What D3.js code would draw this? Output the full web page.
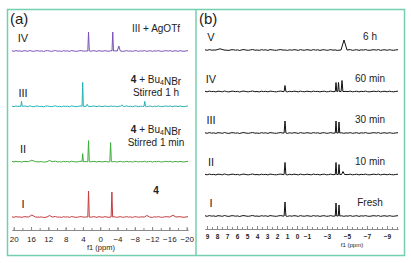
<!DOCTYPE html>
<html lang="en">
<head>
<meta charset="UTF-8" />
<title>NMR spectra</title>
<script src="https://d3js.org/d3.v7.min.js"></script>
<style>
  html, body { margin: 0; padding: 0; background: #fff; }
  svg { display: block; font-family: "Liberation Sans", Arial, sans-serif; }
  .trace { fill: none; stroke-linejoin: round; }
  .axis path, .axis line { stroke: #8a8a8a; }
  .axis text { fill: #222; }
</style>
</head>
<body>
<svg id="chart" width="411" height="263"></svg>
<script>
// panel (a)
const namesA = ["IV", "III", "II", "I"];
const colorsA = ["#7b52b6", "#25b3b6", "#3fab3c", "#c43c40"];
const notesA = [
  ["III + AgOTf"],
  ["<b>4</b> + Bu<sub>4</sub>NBr", "Stirred 1 h"],
  ["<b>4</b> + Bu<sub>4</sub>NBr", "Stirred 1 min"],
  ["<b>4</b>"]
];
// peaks as [ppm, height, width]
const peaksA_IV = [[2.7, 19, 0.35], [-2.9, 19, 0.35], [-4.3, 5, 0.7]];
const peaksA_III = [[18.2, 5, 0.3], [4.05, 24, 0.3], [3.0, 2, 0.5], [-5.0, 1.5, 0.6], [-10.3, 5, 0.35]];
const peaksA_II = [[15.8, 1.5, 1.6], [11.7, 1.2, 1.2], [4.05, 8, 0.3], [2.7, 21, 0.35], [-2.4, 19, 0.35]];
const peaksA_I = [[15.8, 2, 1.6], [11.7, 1.5, 1.2], [2.7, 26, 0.35], [-2.7, 25, 0.35], [-10.8, 1.5, 1.2], [-16.8, 1.8, 1.4]];
const ticksA = [20, 16, 12, 8, 4, 0, -4, -8, -12, -16, -20];

// panel (b)
const namesB = ["V", "IV", "III", "II", "I"];
const notesB = ["6 h", "60 min", "30 min", "10 min", "Fresh"];
const peaksB_V = [[7.7, 1.2, 0.8], [-4.7, 10, 0.6]];
const peaksB_IV = [[1.2, 6, 0.18], [-3.9, 9, 0.15], [-4.15, 9, 0.15], [-4.5, 11, 0.18]];
const peaksB_III = [[1.2, 12, 0.18], [-3.9, 12, 0.15], [-4.2, 11, 0.15]];
const peaksB_II = [[1.2, 12, 0.18], [-3.9, 12, 0.15], [-4.2, 10, 0.15], [-4.6, 3, 0.3]];
const peaksB_I = [[1.2, 14, 0.18], [-3.9, 13, 0.15], [-4.2, 11, 0.15]];
const ticksB = [9, 8, 7, 6, 5, 4, 3, 2, 1, 0, -1, -3, -5, -7, -9];

// baseline ripple
const noise = [0.2,-0.3,0.4,-0.1,0.1,-0.4,0.3,0.1,-0.3,0.5,-0.1,-0.4,0.2,0.3,-0.2,0.1,-0.5,0.2,0.4,-0.1,
  -0.3,0.1,0.5,-0.2,0.0,-0.4,0.3,-0.1,0.2,-0.4,0.4,0.1,-0.2,-0.3,0.2,0.4,-0.1,0.0,-0.4,0.2,
  -0.2,0.3,0.1,-0.4,0.4,-0.1,-0.2,0.3,0.0,-0.3,0.4,-0.1,0.2,-0.4,0.1,0.3,-0.3,-0.1,0.4,-0.2,
  0.1,-0.4,0.3,0.2,-0.3,0.1,-0.1,0.4,-0.3,0.0,0.3,-0.4,0.2,-0.1,0.4,-0.2,-0.3,0.1,0.3,-0.1,
  0.4,-0.4,0.1,0.2,-0.3,0.3,-0.1,-0.3,0.1,0.3];

const svg = d3.select("#chart");
const frameColor = "#74cfae";

svg.append("rect")
  .attr("x", 7.5).attr("y", 9.5).attr("width", 397).attr("height", 246)
  .attr("fill", "none").attr("stroke", frameColor).attr("stroke-width", 1.5);
svg.append("line")
  .attr("x1", 196).attr("x2", 196).attr("y1", 9.5).attr("y2", 255.5)
  .attr("stroke", frameColor).attr("stroke-width", 1.5);

const h = d3.scaleLinear().domain([0, 30]).range([0, -30]);

function tracePoints(peaks, x) {
  const [d0, d1] = x.domain();
  const step = (d1 - d0) / (noise.length - 1);
  const pts = noise.map((v, i) => [d0 + i * step, v])
    .filter(([p]) => !peaks.some(([c, , w]) => Math.abs(p - c) < w));
  peaks.forEach(([c, ht, w]) => pts.push([c + w / 2, 0], [c, ht], [c - w / 2, 0]));
  return pts.sort((a, b) => b[0] - a[0]);
}

function richText(sel, str) {
  str.split(/(<b>.*?<\/b>|<sub>.*?<\/sub>)/).filter(s => s).forEach(part => {
    if (part.startsWith("<b>")) {
      sel.append("tspan").attr("font-weight", "bold").text(part.slice(3, -4));
    } else if (part.startsWith("<sub>")) {
      sel.append("tspan").attr("font-size", "70%").attr("dy", 2).text(part.slice(5, -6));
      sel.append("tspan").attr("dy", -2).text("");
    } else {
      sel.append("tspan").text(part);
    }
  });
}

// ---- panel (a)
const xA = d3.scaleLinear().domain([20.4, -20.3]).range([12, 188]);
const yA = d3.scalePoint().domain(namesA).range([51, 217]);
const peaksA = [peaksA_IV, peaksA_III, peaksA_II, peaksA_I];
const noteOffsetA = [-19, -23, -29, -23];

const gA = svg.append("g");
namesA.forEach((name, i) => {
  const base = yA(name);
  const line = d3.line().x(d => xA(d[0])).y(d => base + h(d[1]));
  gA.append("path").attr("class", "trace")
    .attr("d", line(tracePoints(peaksA[i], xA)))
    .attr("stroke", colorsA[i]).attr("stroke-width", 1);
  gA.append("text").attr("x", 23).attr("y", base - 9)
    .attr("text-anchor", "middle").attr("font-size", 11).attr("fill", "#222").text(name);
  notesA[i].forEach((s, j) => {
    const t = gA.append("text").attr("x", 156).attr("y", base + noteOffsetA[i] + j * 13)
      .attr("text-anchor", "middle").attr("font-size", 10).attr("fill", "#222");
    richText(t, s);
  });
});

gA.append("g").attr("class", "axis").attr("transform", "translate(0,230)")
  .call(d3.axisBottom(xA).tickValues(d3.range(-20, 20.1, 2)).tickSizeInner(-2).tickSizeOuter(0).tickFormat(""));
gA.append("g").attr("class", "axis").attr("transform", "translate(0,230)")
  .call(d3.axisBottom(xA).tickValues(ticksA).tickSizeInner(-3).tickSizeOuter(0).tickPadding(6))
  .call(g => g.selectAll("text").attr("font-size", 8));
gA.append("text").attr("x", 101).attr("y", 250).attr("text-anchor", "middle")
  .attr("font-size", 7.5).attr("fill", "#222").text("f1 (ppm)");
svg.append("text").attr("x", 10).attr("y", 24).attr("font-size", 15).attr("fill", "#222").text("(a)");

// ---- panel (b)
const xB = d3.scaleLinear().domain([9.2, -10.1]).range([205, 398]);
const yB = d3.scalePoint().domain(namesB).range([50, 216]);
const peaksB = [peaksB_V, peaksB_IV, peaksB_III, peaksB_II, peaksB_I];

const gB = svg.append("g");
namesB.forEach((name, i) => {
  const base = yB(name);
  const line = d3.line().x(d => xB(d[0])).y(d => base + h(d[1]));
  gB.append("path").attr("class", "trace")
    .attr("d", line(tracePoints(peaksB[i], xB)))
    .attr("stroke", "#111").attr("stroke-width", 1);
  gB.append("text").attr("x", 211).attr("y", base - 9)
    .attr("text-anchor", "middle").attr("font-size", 11).attr("fill", "#222").text(name);
  gB.append("text").attr("x", 370).attr("y", base - 10)
    .attr("text-anchor", "middle").attr("font-size", 10).attr("fill", "#222").text(notesB[i]);
});

gB.append("g").attr("class", "axis").attr("transform", "translate(0,229)")
  .call(d3.axisBottom(xB).tickValues(d3.range(-10, 9.1, 0.5)).tickSizeInner(-2).tickSizeOuter(0).tickFormat(""));
gB.append("g").attr("class", "axis").attr("transform", "translate(0,229)")
  .call(d3.axisBottom(xB).tickValues(ticksB).tickSizeInner(-3).tickSizeOuter(0).tickPadding(5))
  .call(g => g.selectAll("text").attr("font-size", 6.5).attr("font-weight", "bold"));
gB.append("text").attr("x", 352).attr("y", 247).attr("text-anchor", "middle")
  .attr("font-size", 6).attr("fill", "#222").text("f1 (ppm)");
svg.append("text").attr("x", 199).attr("y", 24).attr("font-size", 15).attr("fill", "#222").text("(b)");
</script>
</body>
</html>
